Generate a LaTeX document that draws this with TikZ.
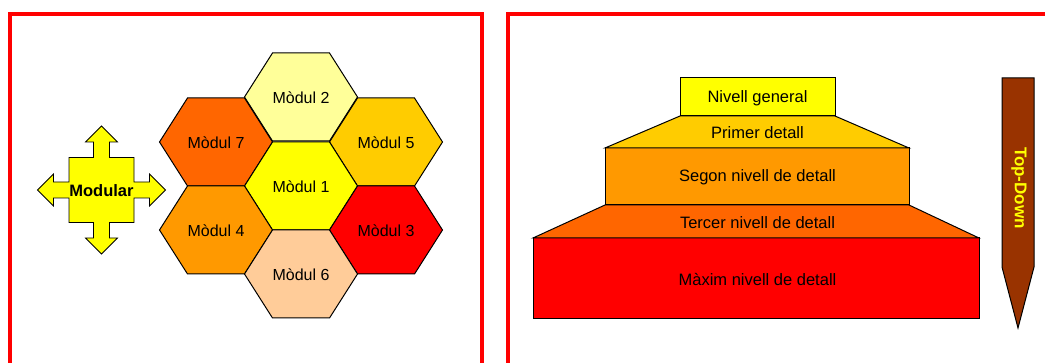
\documentclass[tikz,border=0pt]{standalone}
\usepackage{fontspec}
\setmainfont{Liberation Sans}
\definecolor{frame}{HTML}{FF0000}
\definecolor{cYellow}{HTML}{FFFF00}
\definecolor{cPale}{HTML}{FFFF99}
\definecolor{cGold}{HTML}{FFCC00}
\definecolor{cAmber}{HTML}{FF9900}
\definecolor{cOrange}{HTML}{FF6600}
\definecolor{cRed}{HTML}{FF0000}
\definecolor{cPeach}{HTML}{FFCC99}
\definecolor{cBrown}{HTML}{993300}
% hexagonal cell: name, centre x, centre y, fill colour, label
\newcommand\hexcell[5]{%
  \draw[outline, fill=#4] (#2-56.5,#3) -- (#2-28.5,#3-44) -- (#2+28.5,#3-44)
    -- (#2+56.5,#3) -- (#2+28.5,#3+44) -- (#2-28.5,#3+44) -- cycle;
  \node[label text] (#1) at (#2,#3+1) {#5};}
\begin{document}
\begin{tikzpicture}[x=1pt, y=-1pt, line join=miter,
  outline/.style={draw=black, line width=1pt},
  label text/.style={inner sep=0pt, font=\fontsize{16}{18}\selectfont},
  panel/.style={draw=frame, line width=4pt}]
\useasboundingbox (0,0) rectangle (1045,363);
\clip (0,0) rectangle (1045,363);

% panel frames (open at the bottom)
\draw[panel] (9.5,380) -- (9.5,14.5) -- (482,14.5) -- (482,380);
\draw[panel] (508,380) -- (508,14.5) -- (1060,14.5);

% ---- modular honeycomb ----
\hexcell{m2}{301}{97}{cPale}{Mòdul 2}
\hexcell{m7}{216}{142}{cOrange}{Mòdul 7}
\hexcell{m5}{386}{142}{cGold}{Mòdul 5}
\hexcell{m1}{301}{186}{cYellow}{Mòdul 1}
\hexcell{m4}{216}{230}{cAmber}{Mòdul 4}
\hexcell{m3}{386}{230}{cRed}{Mòdul 3}
\hexcell{m6}{301}{274}{cPeach}{Mòdul 6}

% four-way arrow
\begin{scope}[shift={(101.5,190)}]
\draw[outline, fill=cYellow, line width=0.8pt]
  (0,-64) -- (16,-48) -- (8,-48) -- (8,-32.5) -- (32.5,-32.5) -- (32.5,-8)
  -- (48,-8) -- (48,-16) -- (64,0) -- (48,16) -- (48,8) -- (32.5,8)
  -- (32.5,32.5) -- (8,32.5) -- (8,48) -- (16,48) -- (0,64) -- (-16,48)
  -- (-8,48) -- (-8,32.5) -- (-32.5,32.5) -- (-32.5,8) -- (-48,8)
  -- (-48,16) -- (-64,0) -- (-48,-16) -- (-48,-8) -- (-32.5,-8)
  -- (-32.5,-32.5) -- (-8,-32.5) -- (-8,-48) -- (-16,-48) -- cycle;
\node[label text, font=\fontsize{16.5}{18}\selectfont\bfseries] (modular) at (0,1) {Modular};
\end{scope}

% ---- top-down pyramid ----
\draw[outline, fill=cRed] (533,238) rectangle (979,319);
\draw[outline, fill=cOrange] (605,205) -- (909,205) -- (979,238) -- (533,238) -- cycle;
\draw[outline, fill=cAmber] (605,148) rectangle (909,205);
\draw[outline, fill=cGold] (680,116) -- (835,116) -- (909,148) -- (605,148) -- cycle;
\draw[outline, fill=cYellow] (680,78) rectangle (835,116);

\begin{scope}[label text/.append style={font=\fontsize{16.5}{18}\selectfont}]
\node[label text] (general) at (757.5,98) {Nivell general};
\node[label text] (primer) at (757.5,133) {Primer detall};
\node[label text] (segon) at (757.5,177) {Segon nivell de detall};
\node[label text] (tercer) at (757.5,223) {Tercer nivell de detall};
\node[label text] (maxim) at (757.5,280) {Màxim nivell de detall};
\end{scope}

% direction arrow
\draw[outline, fill=cBrown] (1002,78) -- (1034,78) -- (1034,267) -- (1018,328)
  -- (1002,267) -- cycle;
\node[label text, rotate=-90, text=cYellow,
  font=\fontsize{17}{18}\selectfont\bfseries] (topdown) at (1019,188) {Top-Down};
\end{tikzpicture}
\end{document}
